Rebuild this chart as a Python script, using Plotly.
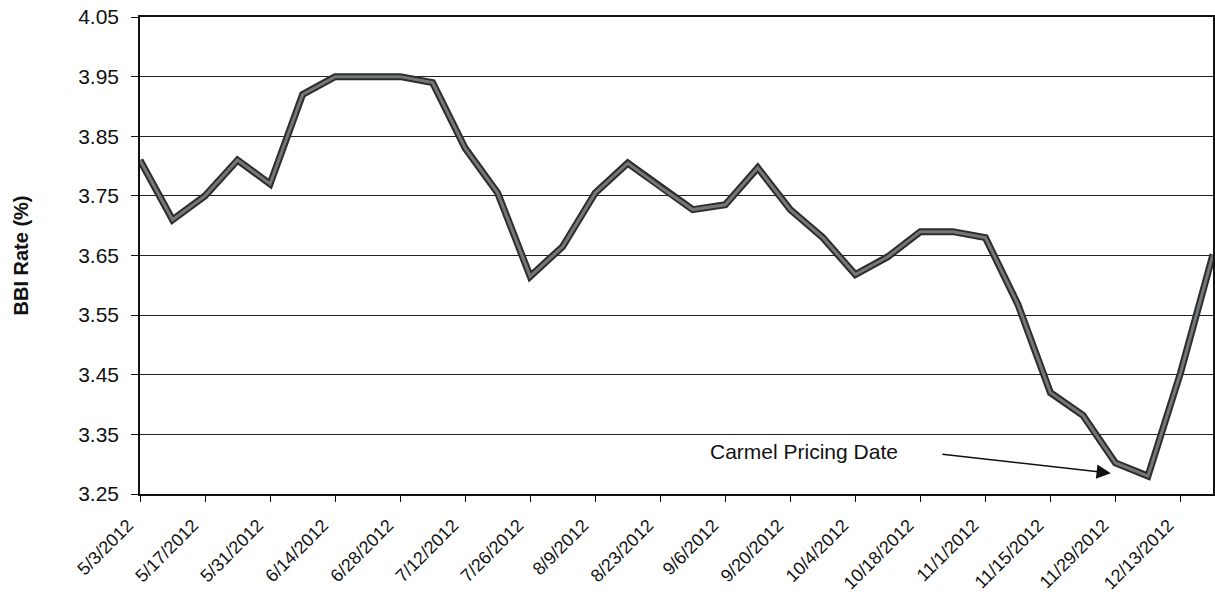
import pandas as pd
import plotly.graph_objects as go

# Weekly BBI rate observations (Thursdays)
dates = pd.date_range("2012-05-03", "2012-12-20", freq="7D")
rates = [3.81, 3.71, 3.75, 3.81, 3.77, 3.92, 3.95, 3.95, 3.95, 3.94,
         3.83, 3.755, 3.615, 3.665, 3.755, 3.805, 3.765, 3.727, 3.735, 3.797,
         3.727, 3.68, 3.618, 3.648, 3.69, 3.69, 3.68, 3.568, 3.42, 3.382,
         3.302, 3.28, 3.453, 3.652]

# Axis ticks: every other week on x, 0.10 steps on y
x_ticks = dates[::2]
x_labels = [f"{d.month}/{d.day}/{d.year}" for d in x_ticks]
y_ticks = [3.25, 3.35, 3.45, 3.55, 3.65, 3.75, 3.85, 3.95, 4.05]

fig = go.Figure()
# dark outer stroke
fig.add_trace(go.Scatter(x=dates, y=rates, mode="lines",
                         line=dict(color="#2d2d2d", width=7),
                         hoverinfo="skip", showlegend=False))
# lighter inner stroke
fig.add_trace(go.Scatter(x=dates, y=rates, mode="lines",
                         line=dict(color="#74777a", width=3),
                         showlegend=False))

font = "Liberation Sans, Arial, sans-serif"

fig.add_annotation(x=pd.Timestamp("2012-09-23"), y=3.322, text="Carmel Pricing Date",
                   showarrow=False, font=dict(family=font, size=21, color="#111"))
fig.add_annotation(x=pd.Timestamp("2012-11-28"), y=3.285, text="",
                   showarrow=True, arrowhead=2, arrowsize=1.9, arrowwidth=1.5,
                   arrowcolor="#111", ax=-170, ay=-19)

fig.update_layout(
    width=1215, height=602,
    margin=dict(l=140, r=2, t=17, b=108),
    paper_bgcolor="white", plot_bgcolor="white",
    font=dict(family=font, color="#111"),
)
fig.update_xaxes(
    range=[dates[0], dates[-1]],
    tickvals=x_ticks, ticktext=x_labels, tickangle=-45,
    tickfont=dict(size=18),
    ticks="outside", ticklen=6, tickcolor="#111",
    ticklabelstandoff=6, ticklabelshift=-12,
    showgrid=False, showline=True, linecolor="#111", linewidth=1.5, mirror=True,
    zeroline=False, automargin=False,
)
fig.update_yaxes(
    range=[3.25, 4.05], tickvals=y_ticks, tickformat=".2f",
    tickfont=dict(size=21),
    ticks="outside", ticklen=7, tickcolor="#111", ticklabelstandoff=8,
    showgrid=True, gridcolor="#222", gridwidth=1,
    showline=True, linecolor="#111", linewidth=1.5, mirror=True,
    zeroline=False, automargin=False,
    title=dict(text="<b>BBI Rate (%)</b>", font=dict(size=20), standoff=44),
)

fig.write_html("out.html")
